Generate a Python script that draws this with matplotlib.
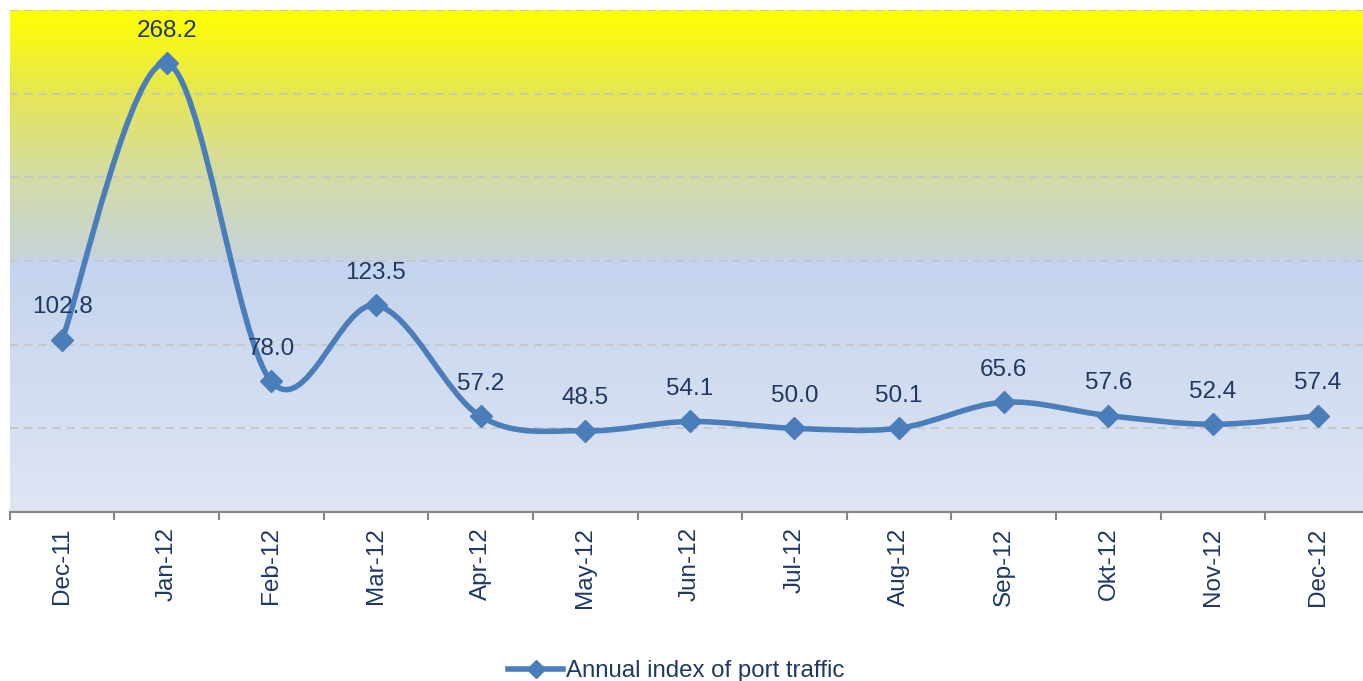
import numpy as np
import matplotlib
matplotlib.use("Agg")
import matplotlib.pyplot as plt
from matplotlib.path import Path
from matplotlib.patches import PathPatch
from matplotlib.colors import LinearSegmentedColormap
from matplotlib.lines import Line2D

plt.rcParams['font.family'] = ['Liberation Sans', 'DejaVu Sans']

months = ["Dec-11", "Jan-12", "Feb-12", "Mar-12", "Apr-12", "May-12", "Jun-12",
          "Jul-12", "Aug-12", "Sep-12", "Okt-12", "Nov-12", "Dec-12"]
index_values = [102.8, 268.2, 78.0, 123.5, 57.2, 48.5, 54.1, 50.0, 50.1, 65.6, 57.6, 52.4, 57.4]
series_name = "Annual index of port traffic"

line_color = "#4A7EBB"
text_color = "#1F3864"

fig = plt.figure(figsize=(13.63, 6.81), dpi=100)
ax = fig.add_axes([9.7 / 1363, 1 - 512 / 681, 1360.3 / 1363, 502 / 681])

n = len(months)
x = np.arange(n)
ax.set_xlim(-0.5, n - 0.5)
ax.set_ylim(0, 300)

# gradient background (yellow top -> blue bottom)
stops = [(0.0, "#DFE5F3"), (0.5, "#C4D4EE"), (0.507, "#C7D3D8"),
         (0.67, "#D3DCA6"), (0.833, "#E6E655"), (1.0, "#FFFF00")]
cmap = LinearSegmentedColormap.from_list("bg", stops)
grad = np.linspace(0, 1, 512).reshape(-1, 1)
ax.imshow(grad, cmap=cmap, aspect="auto", origin="lower",
          extent=[-0.5, n - 0.5, 0, 300], zorder=0)

# gridlines
for gy in range(50, 301, 50):
    ax.axhline(gy, color="#C4C4C4", lw=1.2, ls=(0, (5, 3.5)), zorder=1)

# smoothed line (cubic Bezier through the points, Excel-style)
pts = np.column_stack([x, index_values]).astype(float)
verts = [tuple(pts[0])]
codes = [Path.MOVETO]
for i in range(n - 1):
    p0 = pts[i - 1] if i > 0 else pts[i]
    p1 = pts[i]
    p2 = pts[i + 1]
    p3 = pts[i + 2] if i + 2 < n else pts[i + 1]
    c1 = p1 + (p2 - p0) / 6
    c2 = p2 - (p3 - p1) / 6
    verts += [tuple(c1), tuple(c2), tuple(p2)]
    codes += [Path.CURVE4] * 3
ax.add_patch(PathPatch(Path(verts, codes), fill=False, edgecolor=line_color,
                       lw=4, capstyle="round", joinstyle="round", zorder=3))
ax.plot(x, index_values, ls="none", marker="D", ms=11, color=line_color, zorder=4)

for xi, v in zip(x, index_values):
    ax.annotate(f"{v:.1f}", (xi, v), xytext=(0, 23.5), textcoords="offset points",
                ha="center", va="center", fontsize=17.5, color=text_color, zorder=5)

# axes styling
for s in ["top", "right", "left"]:
    ax.spines[s].set_visible(False)
ax.spines["bottom"].set_color("#868686")
ax.spines["bottom"].set_linewidth(1.5)
ax.set_yticks([])
ax.set_xticks(np.arange(-0.5, n, 1), minor=False)
ax.set_xticklabels([])
ax.tick_params(axis="x", which="major", length=6, width=1.5, color="#868686")
ax.set_xticks(x, minor=True)
ax.set_xticklabels(months, minor=True, rotation=90, fontsize=17.5, color=text_color)
ax.tick_params(axis="x", which="minor", length=0, pad=11)

handle = Line2D([], [], color=line_color, lw=4, marker="D", ms=9)
fig.legend([handle], [series_name], loc="center", bbox_to_anchor=(676 / 1363, 1 - 671 / 681),
           frameon=False, fontsize=17.3, labelcolor=text_color, handlelength=2.3,
           handletextpad=0.1)

fig.savefig("out.png", dpi=100)
